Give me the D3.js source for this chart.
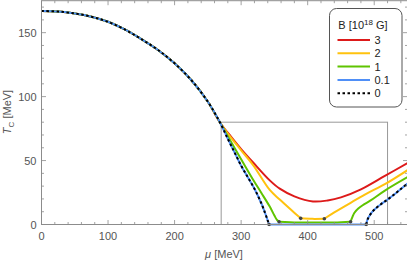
<!DOCTYPE html>
<html>
<head>
<meta charset="utf-8">
<script src="https://cdn.jsdelivr.net/npm/d3@7"></script>
<style>
  body { margin: 0; background: #fff; }
  svg { display: block; font-family: "Liberation Sans", Arial, sans-serif; }
</style>
</head>
<body>
<div id="view"></div>
<script>
// upper branch shared by every B (curves split off near mu = 268)
var muTop = [0, 25, 50, 75, 100, 125, 150, 175, 200, 225, 250, 268];
var tTop  = [167, 166.5, 165, 162.5, 158.5, 152.5, 145, 136.5, 126, 113, 96, 80];

// B = 0 and B = 0.1
var muB0L = [268, 280, 290, 300, 310, 320, 330, 336, 340, 342];
var tB0L  = [80, 67, 56.5, 46, 37, 28, 17, 9, 3, 0];
var muB0R = [488, 490, 495, 500, 510, 520, 530, 540, 550];
var tB0R  = [0, 4, 8.5, 11.5, 15.8, 19.5, 23.5, 27.8, 32];

// B = 1
var muB1L = [268, 280, 300, 318, 330, 343, 350, 354, 357];
var tB1L  = [80, 69, 51, 35, 25, 14, 7, 3.5, 2.2];
var muB1M = [357, 385, 410, 440, 464.5];
var tB1M  = [2.2, 1.6, 1.5, 1.6, 2.2];
var muB1R = [464.5, 467, 470, 476, 484, 494, 516, 550];
var tB1R  = [2.2, 5.5, 9, 12.5, 15.5, 18.6, 26.5, 37];

// B = 2
var muB2L = [268, 280, 300, 318, 343, 358, 375, 389.5];
var tB2L  = [80, 71, 58, 46.5, 27, 19.5, 11.5, 4.8];
var muB2M = [389.5, 407, 425];
var tB2M  = [4.8, 4.4, 4.5];
var muB2R = [425, 440, 468, 490, 516, 550];
var tB2R  = [4.5, 9.5, 18, 24.5, 31.5, 42.5];

// B = 3
var muB3 = [268, 285, 300, 318, 343, 358, 380, 408, 430, 450, 480, 516, 550];
var tB3  = [80, 68.5, 59, 48.5, 34.5, 28, 22, 18, 18.8, 21.2, 27.5, 38, 48];

var dotMu = [342, 488, 357, 464.5, 389.5, 425];
var dotT  = [0, 0, 2.2, 2.2, 4.8, 4.5];

var legendLabels = ["3", "2", "1", "0.1", "0"];
var legendColors = ["#dd1a1a", "#ffc20e", "#5fc400", "#4f8ff7", "#000"];
var xTicks = [0, 100, 200, 300, 400, 500];
var yTicks = [0, 50, 100, 150];
var boxMu = [270, 520];
var boxT = 80;

function zip(a, b) { return a.map(function(v, i) { return [v, b[i]]; }); }

var W = 407, H = 262;
var x = d3.scaleLinear().domain([0, 550]).range([41.5, 407.5]);
var y = d3.scaleLinear().domain([0, 175]).range([224.5, 0.7]);

var svg = d3.select("#view").append("svg").attr("width", W).attr("height", H);

var frameColor = "#8c8c8c";
var labelColor = "#555";

var line = d3.line().x(function(d) { return x(d[0]); }).y(function(d) { return y(d[1]); })
  .curve(d3.curveCatmullRom.alpha(0.5));

var plot = svg.append("g");
plot.append("clipPath").attr("id", "clip").append("rect")
  .attr("x", x(0)).attr("y", 0).attr("width", x(550) - x(0)).attr("height", y(0) + 2);
var g = plot.append("g").attr("clip-path", "url(#clip)");

// inner rectangle
g.append("rect").attr("x", x(boxMu[0])).attr("y", y(boxT))
  .attr("width", x(boxMu[1]) - x(boxMu[0])).attr("height", y(0) - y(boxT))
  .attr("fill", "none").attr("stroke", "#999").attr("stroke-width", 1);

var topPart = zip(muTop, tTop);
function withTop(a) { return topPart.slice(0, -1).concat(a); }

function draw(segs, color, dash) {
  segs.forEach(function(p) {
    g.append("path").attr("d", line(p)).attr("fill", "none")
      .attr("stroke", color).attr("stroke-width", 2)
      .attr("stroke-dasharray", dash || null);
  });
}

draw([withTop(zip(muB3, tB3))], legendColors[0]);
draw([withTop(zip(muB2L, tB2L)), zip(muB2M, tB2M), zip(muB2R, tB2R)], legendColors[1]);
draw([withTop(zip(muB1L, tB1L)), zip(muB1M, tB1M), zip(muB1R, tB1R)], legendColors[2]);
draw([withTop(zip(muB0L, tB0L)), [[342, 0], [488, 0]], zip(muB0R, tB0R)], legendColors[3]);
draw([withTop(zip(muB0L, tB0L)), zip(muB0R, tB0R)], "#000", "2.5,2.5");

g.selectAll("circle.pt").data(zip(dotMu, dotT)).enter().append("circle")
  .attr("class", "pt").attr("cx", function(d) { return x(d[0]); }).attr("cy", function(d) { return y(d[1]); })
  .attr("r", 1.8).attr("fill", "#444");

// frame and ticks
var fr = svg.append("g");
fr.append("rect").attr("x", x(0)).attr("y", y(175)).attr("width", x(550) - x(0)).attr("height", y(0) - y(175))
  .attr("fill", "none").attr("stroke", frameColor).attr("stroke-width", 1);

d3.range(0, 551, 20).forEach(function(v) {
  var len = v % 100 === 0 ? 4.5 : 2.5;
  fr.append("line").attr("x1", x(v)).attr("x2", x(v)).attr("y1", y(0)).attr("y2", y(0) - len)
    .attr("stroke", frameColor).attr("stroke-width", 0.8);
  fr.append("line").attr("x1", x(v)).attr("x2", x(v)).attr("y1", y(175)).attr("y2", y(175) + len)
    .attr("stroke", frameColor).attr("stroke-width", 0.8);
});
d3.range(0, 176, 10).forEach(function(v) {
  var len = v % 50 === 0 ? 4.5 : 2.5;
  fr.append("line").attr("y1", y(v)).attr("y2", y(v)).attr("x1", x(0)).attr("x2", x(0) + len)
    .attr("stroke", frameColor).attr("stroke-width", 0.8);
  fr.append("line").attr("y1", y(v)).attr("y2", y(v)).attr("x1", x(550)).attr("x2", x(550) - len)
    .attr("stroke", frameColor).attr("stroke-width", 0.8);
});

fr.selectAll("text.xt").data(xTicks).enter().append("text").attr("class", "xt")
  .attr("x", function(d) { return x(d); }).attr("y", 239.5).attr("text-anchor", "middle")
  .attr("font-size", 11).attr("fill", labelColor).text(function(d) { return d; });
fr.selectAll("text.yt").data(yTicks).enter().append("text").attr("class", "yt")
  .attr("x", 36.5).attr("y", function(d) { return y(d) + 4; }).attr("text-anchor", "end")
  .attr("font-size", 11).attr("fill", labelColor).text(function(d) { return d; });

// axis labels
var xl = svg.append("text").attr("x", 224).attr("y", 258).attr("text-anchor", "middle")
  .attr("font-size", 11).attr("fill", labelColor);
xl.append("tspan").attr("font-style", "italic").text("μ");
xl.append("tspan").text(" [MeV]");

var yl = svg.append("text").attr("transform", "translate(11,112) rotate(-90)")
  .attr("text-anchor", "middle").attr("font-size", 11).attr("fill", labelColor);
yl.append("tspan").attr("font-style", "italic").text("T");
yl.append("tspan").attr("font-size", 8).attr("dy", 2.5).text("C");
yl.append("tspan").attr("dy", -2.5).text(" [MeV]");

// legend
var lg = svg.append("g");
lg.append("rect").attr("x", 329.5).attr("y", 8.5).attr("width", 72.5).attr("height", 98.5)
  .attr("rx", 7).attr("fill", "#fff").attr("stroke", "#555").attr("stroke-width", 1);
var lt = lg.append("text").attr("x", 363).attr("y", 29).attr("text-anchor", "middle")
  .attr("font-size", 11).attr("fill", "#222");
lt.append("tspan").text("B [10");
lt.append("tspan").attr("font-size", 8).attr("dy", -4).text("18");
lt.append("tspan").attr("dy", 4).text(" G]");

legendLabels.forEach(function(lab, i) {
  var yy = 40 + i * 13.3;
  lg.append("line").attr("x1", 337.5).attr("x2", 370).attr("y1", yy).attr("y2", yy)
    .attr("stroke", legendColors[i]).attr("stroke-width", 2)
    .attr("stroke-dasharray", i === 4 ? "2.5,2.5" : null);
  lg.append("text").attr("x", 374.5).attr("y", yy + 4).attr("font-size", 11)
    .attr("fill", "#222").text(lab);
});
</script>
</body>
</html>
